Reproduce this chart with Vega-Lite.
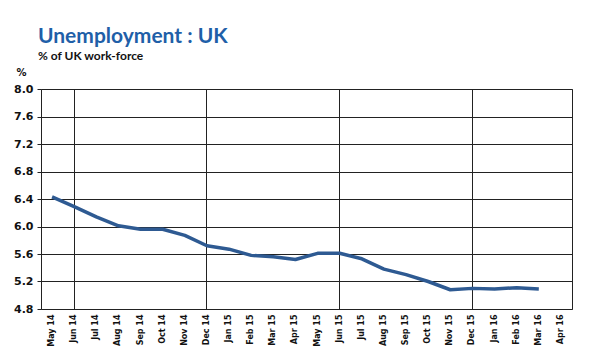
{
  "$schema": "https://vega.github.io/schema/vega-lite/v6.json",
  "width": 531,
  "height": 220,
  "autosize": {"type": "none"},
  "padding": {"left": 41, "top": 89, "right": 28, "bottom": 50},
  "background": "white",
  "title": {
    "text": "Unemployment : UK",
    "subtitle": "% of UK work-force",
    "anchor": "start",
    "frame": "group",
    "dx": -3,
    "offset": 5,
    "font": "Lato",
    "fontSize": 21,
    "fontWeight": "bold",
    "color": "#1f5fa8",
    "subtitleFont": "Lato",
    "subtitleFontSize": 12,
    "subtitleFontWeight": "bold",
    "subtitleColor": "#111111",
    "subtitlePadding": 4
  },
  "data": {
    "values": [
      {"month": "May 14", "rate": 6.43},
      {"month": "Jun 14", "rate": 6.29},
      {"month": "Jul 14", "rate": 6.14},
      {"month": "Aug 14", "rate": 6.01},
      {"month": "Sep 14", "rate": 5.96},
      {"month": "Oct 14", "rate": 5.96},
      {"month": "Nov 14", "rate": 5.87},
      {"month": "Dec 14", "rate": 5.72},
      {"month": "Jan 15", "rate": 5.67},
      {"month": "Feb 15", "rate": 5.58},
      {"month": "Mar 15", "rate": 5.56},
      {"month": "Apr 15", "rate": 5.52},
      {"month": "May 15", "rate": 5.61},
      {"month": "Jun 15", "rate": 5.61},
      {"month": "Jul 15", "rate": 5.53},
      {"month": "Aug 15", "rate": 5.38},
      {"month": "Sep 15", "rate": 5.3},
      {"month": "Oct 15", "rate": 5.2},
      {"month": "Nov 15", "rate": 5.08},
      {"month": "Dec 15", "rate": 5.1},
      {"month": "Jan 16", "rate": 5.09},
      {"month": "Feb 16", "rate": 5.11},
      {"month": "Mar 16", "rate": 5.09},
      {"month": "Apr 16", "rate": null}
    ]
  },
  "mark": {"type": "line", "color": "#2e5a92", "strokeWidth": 3.5, "strokeJoin": "round"},
  "encoding": {
    "x": {
      "field": "month",
      "type": "ordinal",
      "sort": null,
      "scale": {"type": "band", "paddingInner": 0, "paddingOuter": 0},
      "axis": {
        "title": null,
        "labelAngle": -90,
        "labelAlign": "right",
        "labelBaseline": "middle",
        "labelFont": "DejaVu Sans",
        "labelFontSize": 8,
        "labelFontWeight": "bold",
        "labelColor": "#111111",
        "labelPadding": 5,
        "ticks": false,
        "domain": false,
        "grid": true,
        "gridColor": "#222222",
        "gridWidth": 1,
        "gridOpacity": {"condition": {"test": "indexof(['Jun 14','Dec 14','Jun 15','Dec 15'], datum.value) >= 0", "value": 1}, "value": 0}
      }
    },
    "y": {
      "field": "rate",
      "type": "quantitative",
      "scale": {"domain": [4.8, 8.0], "nice": false, "zero": false},
      "axis": {
        "title": "%",
        "titleAngle": 0,
        "titleX": -20,
        "titleY": -17,
        "titleAlign": "center",
        "titleBaseline": "middle",
        "titleFont": "DejaVu Sans",
        "titleFontSize": 10,
        "titleFontWeight": "bold",
        "titleColor": "#111111",
        "values": [4.8, 5.2, 5.6, 6.0, 6.4, 6.8, 7.2, 7.6, 8.0],
        "format": ".1f",
        "labelFont": "DejaVu Sans",
        "labelFontSize": 11,
        "labelFontWeight": "bold",
        "labelColor": "#111111",
        "labelPadding": 4,
        "tickSize": 4,
        "tickColor": "#222222",
        "domain": false,
        "grid": true,
        "gridColor": "#222222",
        "gridWidth": 1
      }
    }
  },
  "config": {
    "view": {"stroke": "#222222", "strokeWidth": 1}
  }
}
